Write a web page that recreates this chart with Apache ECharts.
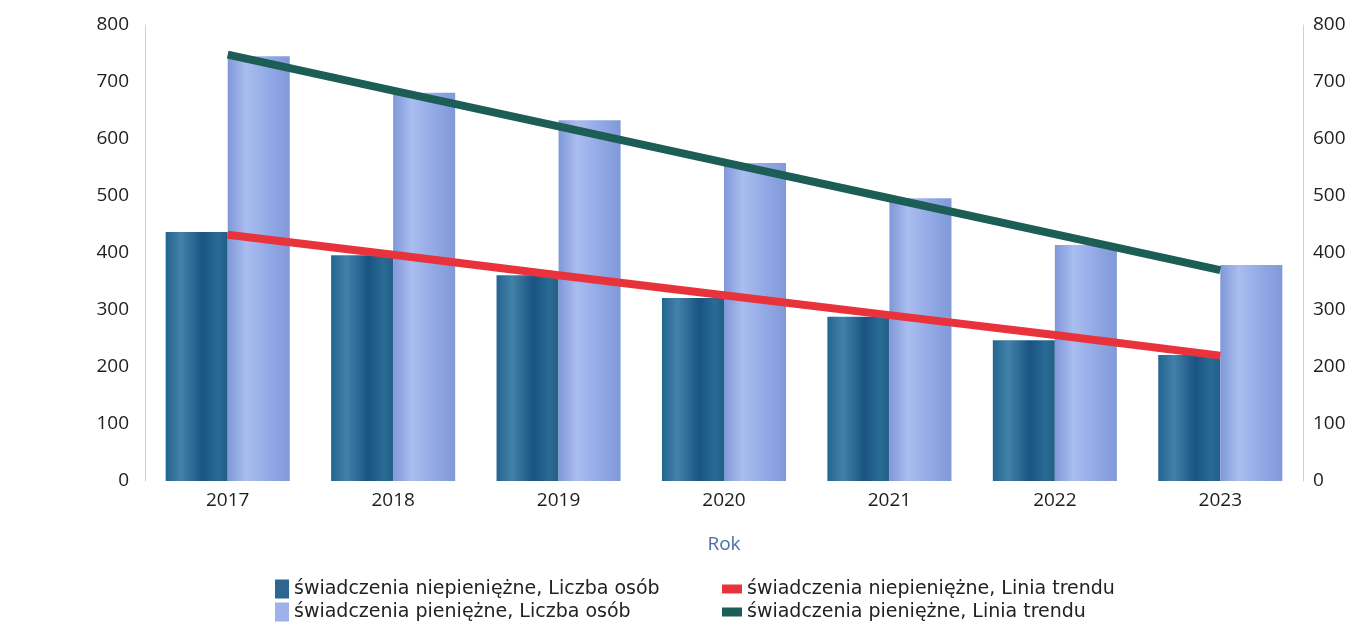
<!DOCTYPE html>
<html>
<head>
<meta charset="utf-8">
<script src="https://cdn.jsdelivr.net/npm/echarts@6/dist/echarts.min.js"></script>
<style>
    html, body { margin: 0; padding: 0; background: #fff; }
    #chart { width: 1351px; height: 625px; }
</style>
</head>
<body>
<div id="chart"></div>
<script>
    // Data
    var years = ['2017', '2018', '2019', '2020', '2021', '2022', '2023'];
    var niepieniezne_osoby = [437, 396, 361, 321, 288, 247, 221];
    var pieniezne_osoby = [745, 681, 633, 558, 496, 414, 379];
    var niepieniezne_trend = [432, 397, 361, 326, 291, 256, 220];
    var pieniezne_trend = [748, 685, 622, 559, 496, 433, 370];
    var y_ticks = [0, 100, 200, 300, 400, 500, 600, 700, 800];

    var names = [
        'świadczenia niepieniężne, Liczba osób',
        'świadczenia pieniężne, Liczba osób',
        'świadczenia niepieniężne, Linia trendu',
        'świadczenia pieniężne, Linia trendu'
    ];

    var font = '"Open Sans", sans-serif';

    var dark_bar = new echarts.graphic.LinearGradient(0, 0, 1, 0, [
        {offset: 0, color: '#236590'},
        {offset: 0.25, color: '#4381a8'},
        {offset: 0.6, color: '#195482'},
        {offset: 0.85, color: '#2a6b96'},
        {offset: 1, color: '#215e88'}
    ]);
    var light_bar = new echarts.graphic.LinearGradient(0, 0, 1, 0, [
        {offset: 0, color: '#8098d8'},
        {offset: 0.3, color: '#aabdf0'},
        {offset: 0.7, color: '#8fa7e3'},
        {offset: 1, color: '#8199d9'}
    ]);

    function value_axis(position, margin){
        return {
            type: 'value',
            position: position,
            min: 0,
            max: 800,
            interval: 100,
            axisLine: {show: true, lineStyle: {color: '#cfcfe4', width: 1}},
            axisTick: {show: false},
            splitLine: {show: false},
            axisLabel: {
                margin: margin,
                color: '#1e1e1e',
                fontSize: 19,
                fontFamily: font,
                formatter: function(v){ return y_ticks.indexOf(v) >= 0 ? String(v) : ''; }
            }
        };
    }

    var legend_text = {fontSize: 19, fontFamily: '"DejaVu Sans", sans-serif', color: '#222', lineHeight: 20};

    function legend_item(name, left, top, w, h, color){
        return {
            left: left,
            top: top,
            itemWidth: w,
            itemHeight: h,
            itemGap: 0,
            textStyle: legend_text,
            data: [{name: name, icon: 'rect', itemStyle: {color: color}}]
        };
    }

    var options = {
        animation: false,
        grid: {left: 145, right: 48, top: 25, bottom: 144},
        legend: [
            legend_item(names[0], 270, 574, 14, 19, '#2d6690'),
            legend_item(names[1], 270, 597, 14, 19, '#9db1ea'),
            legend_item(names[2], 717, 574, 20, 9, '#e8333d'),
            legend_item(names[3], 717, 597, 20, 9, '#1c5d55')
        ],
        xAxis: {
            type: 'category',
            data: years,
            name: 'Rok',
            nameLocation: 'middle',
            nameGap: 54,
            nameTextStyle: {color: '#4b6fa6', fontSize: 19, fontFamily: font},
            axisLine: {show: false},
            axisTick: {show: false},
            axisLabel: {margin: 10, color: '#1e1e1e', fontSize: 19, fontFamily: font}
        },
        yAxis: [value_axis('left', 16), value_axis('right', 10)],
        series: [
            {
                name: names[0],
                type: 'bar',
                barWidth: '37.5%',
                barGap: '0%',
                itemStyle: {color: dark_bar},
                data: niepieniezne_osoby
            },
            {
                name: names[1],
                type: 'bar',
                barWidth: '37.5%',
                barGap: '0%',
                itemStyle: {color: light_bar},
                data: pieniezne_osoby
            },
            {
                name: names[2],
                type: 'line',
                symbol: 'none',
                z: 5,
                lineStyle: {color: '#e8333d', width: 8},
                itemStyle: {color: '#e8333d'},
                data: niepieniezne_trend
            },
            {
                name: names[3],
                type: 'line',
                symbol: 'none',
                z: 5,
                lineStyle: {color: '#1c5d55', width: 8},
                itemStyle: {color: '#1c5d55'},
                data: pieniezne_trend
            }
        ]
    };

    echarts.init(document.getElementById('chart')).setOption(options);
</script>
</body>
</html>
